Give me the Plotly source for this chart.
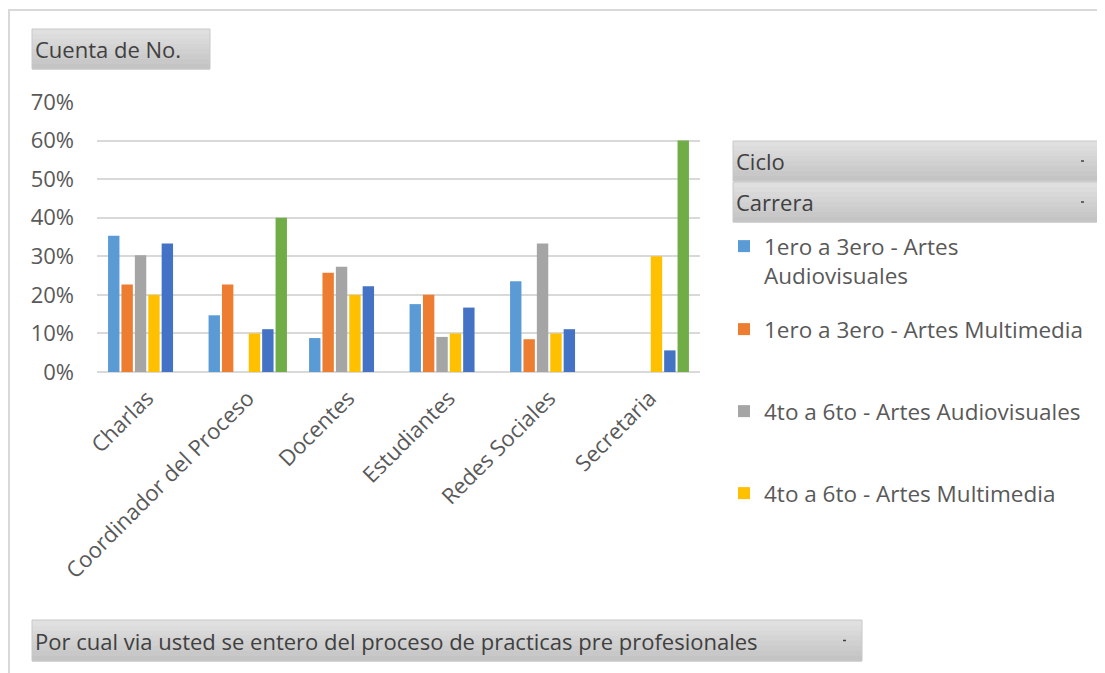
import plotly.graph_objects as go

categories = ["Charlas", "Coordinador del Proceso", "Docentes", "Estudiantes", "Redes Sociales", "Secretaria"]

av_1_3 = [0.353, 0.147, 0.088, 0.176, 0.235, None]
mm_1_3 = [0.227, 0.227, 0.257, 0.200, 0.085, None]
av_4_6 = [0.303, None, 0.273, 0.091, 0.333, None]
mm_4_6 = [0.200, 0.100, 0.200, 0.100, 0.100, 0.300]
serie_5 = [0.333, 0.111, 0.222, 0.167, 0.111, 0.056]
serie_6 = [None, 0.400, None, None, None, 0.600]

series_names = [
    "1ero a 3ero - Artes<br>Audiovisuales",
    "1ero a 3ero - Artes Multimedia",
    "4to a 6to - Artes Audiovisuales",
    "4to a 6to - Artes Multimedia",
    "Serie 5",
    "Serie 6",
]
series_values = [av_1_3, mm_1_3, av_4_6, mm_4_6, serie_5, serie_6]
colors = ["#5B9BD5", "#ED7D31", "#A5A5A5", "#FFC000", "#4472C4", "#70AD47"]

# page has an 8px body margin, so screen coords = figure coords + 8
OFF = 8
W, H = 1105, 673
PLOT_L, PLOT_R, PLOT_T, PLOT_B = 97, 700, 102, 372  # screen pixels
L = PLOT_L - OFF
T = PLOT_T - OFF
R = W - (PLOT_R - OFF)
B = H - (PLOT_B - OFF)
PW, PH = PLOT_R - PLOT_L, PLOT_B - PLOT_T


def px(x):
    return (x - PLOT_L) / PW


def py(y):
    return (PLOT_B - y) / PH


TEXT = "#595959"
FONT = "Open Sans"
FS = 22

fig = go.Figure()
legend_ids = ["legend", "legend2", "legend3", "legend4"]
for i, (name, vals, col) in enumerate(zip(series_names, series_values, colors)):
    fig.add_trace(go.Bar(
        x=categories, y=vals, name=name,
        marker=dict(color=col, line=dict(width=0)),
        showlegend=i < 4,
        legend=legend_ids[i] if i < 4 else None,
    ))

legend_y = [246, 329, 411, 493]
legend_style = dict(
    x=px(724), xanchor="left", yanchor="top",
    font=dict(family=FONT, size=22.5, color=TEXT),
    bgcolor="rgba(0,0,0,0)", valign="top", itemclick=False,
)
layout_legends = {}
for lid, ly in zip(legend_ids, legend_y):
    layout_legends[lid] = dict(legend_style, y=py(ly - 21))

# pivot field buttons (gray gradient bands)
buttons = [
    (32, 29, 210, 69, "Cuenta de No.", False),
    (733, 141, 1100, 181, "Ciclo", True),
    (733, 182, 1100, 222, "Carrera", True),
    (32, 620, 862, 661, "Por cual via usted se entero del proceso de practicas pre profesionales", True),
]
shapes = [dict(type="rect", xref="paper", yref="paper",
               x0=px(9), x1=px(1125), y0=py(10), y1=py(700),
               line=dict(color="#d9d9d9", width=2), fillcolor="rgba(0,0,0,0)", layer="below")]
annotations = []
n_bands = 8
for x0, y0, x1, y1, label, arrow in buttons:
    h = (y1 - y0) / n_bands
    for k in range(n_bands):
        g = int(224 - k * 28 / (n_bands - 1))
        shapes.append(dict(type="rect", xref="paper", yref="paper",
                           x0=px(x0), x1=px(x1), y0=py(y0 + k * h), y1=py(y0 + (k + 1) * h + 0.5),
                           line=dict(width=0), fillcolor=f"rgb({g},{g},{g})", layer="below"))
    shapes.append(dict(type="rect", xref="paper", yref="paper",
                       x0=px(x0), x1=px(x1), y0=py(y0), y1=py(y1),
                       line=dict(color="#c8c8c8", width=1), fillcolor="rgba(0,0,0,0)", layer="below"))
    annotations.append(dict(xref="paper", yref="paper", x=px(x0 + 1), y=py((y0 + y1) / 2),
                            xanchor="left", yanchor="middle", text=label, showarrow=False,
                            font=dict(family=FONT, size=FS, color="#404040")))
    if arrow:
        shapes.append(dict(type="line", xref="paper", yref="paper",
                           x0=px(x1 - 19), x1=px(x1 - 16), y0=py((y0 + y1) / 2), y1=py((y0 + y1) / 2),
                           line=dict(color="#404040", width=1.5)))

fig.update_layout(
    width=W, height=H,
    margin=dict(l=L, r=R, t=T, b=B),
    paper_bgcolor="white", plot_bgcolor="white",
    barmode="group", bargap=0.2, bargroupgap=0.15,
    font=dict(family=FONT, size=FS, color=TEXT),
    shapes=shapes, annotations=annotations,
    **layout_legends,
)
fig.update_yaxes(
    range=[0, 0.7], dtick=0.1, tickformat=".0%",
    showgrid=True, gridcolor="#d9d9d9", gridwidth=2,
    zeroline=True, zerolinecolor="#d9d9d9", zerolinewidth=2,
    showline=False, ticks="", ticklabelstandoff=22,
    tickfont=dict(family=FONT, size=FS, color=TEXT),
)
fig.update_xaxes(
    tickangle=-45, showline=False, ticks="", ticklabelstandoff=8,
    tickfont=dict(family=FONT, size=FS, color=TEXT),
)

fig.write_html("out.html")
